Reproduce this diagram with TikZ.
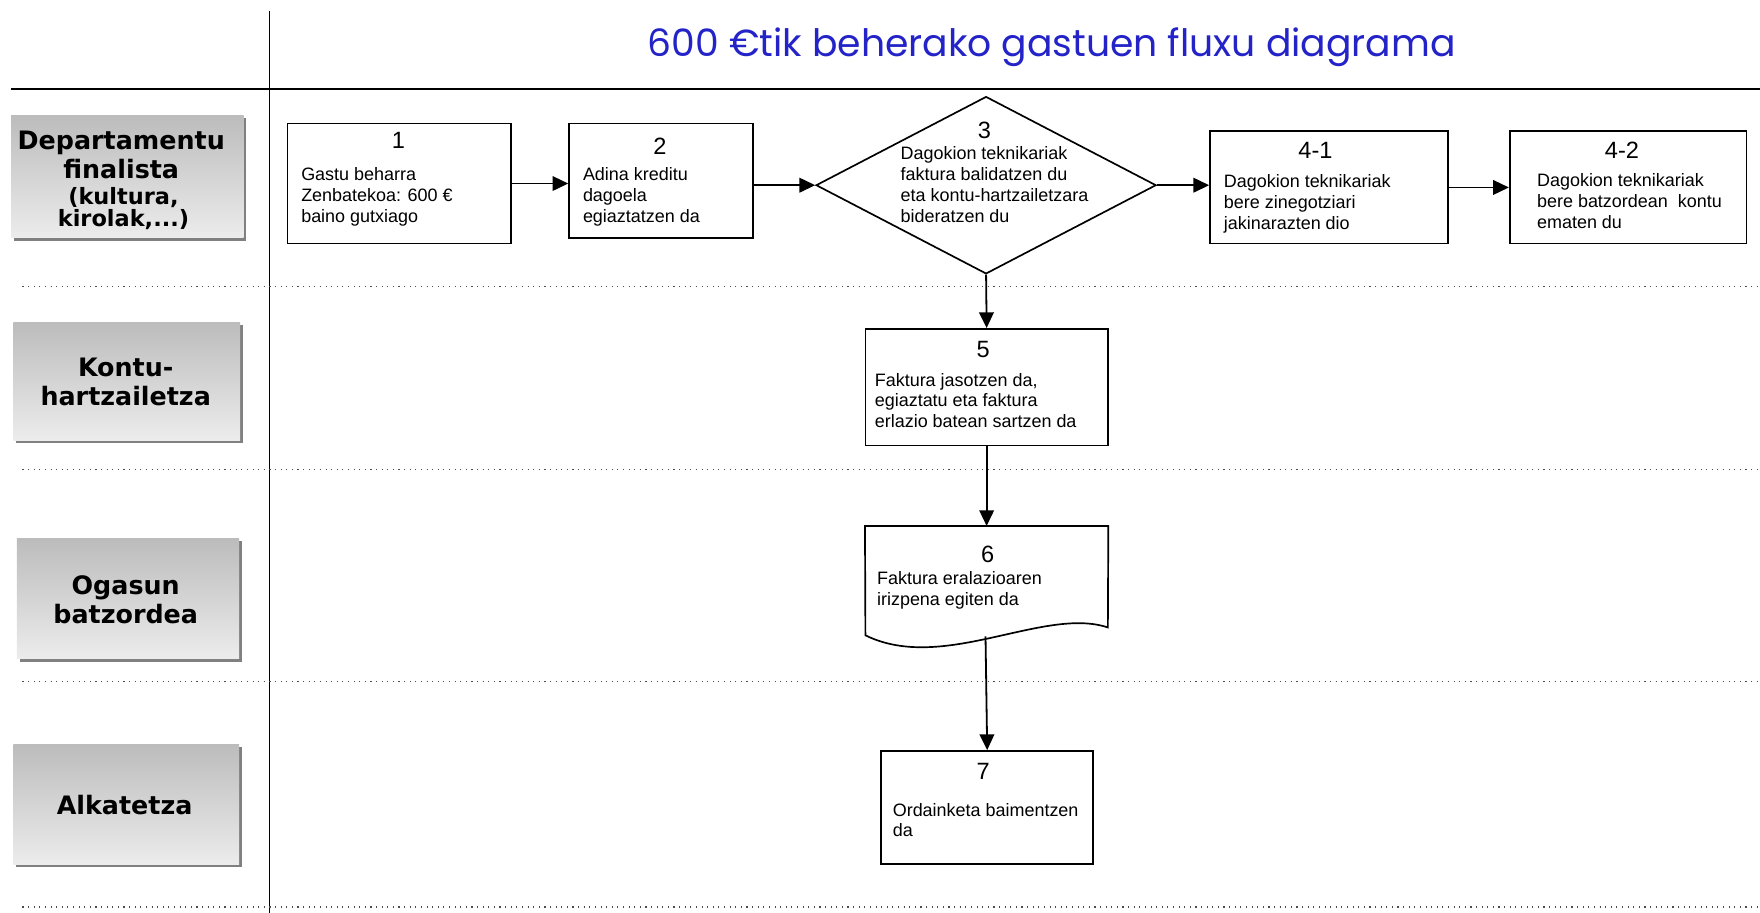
\documentclass[tikz,border=0pt]{standalone}
\usepackage{fontspec}
\setmainfont{Liberation Sans}
\newfontfamily\lanefont{DejaVu Sans}
\newfontfamily\titlefont{Poppins}
\usetikzlibrary{shapes.geometric,arrows.meta,shadows}
\definecolor{titleblue}{RGB}{35,35,200}
\definecolor{lanetop}{RGB}{188,188,188}
\definecolor{lanebot}{RGB}{236,236,236}
\begin{document}
\begin{tikzpicture}[x=0.5pt,y=-0.5pt,
  stepbox/.style={draw, line width=0.75pt, inner sep=0pt},
  num/.style={font=\fontsize{10.5}{12}\selectfont, inner sep=0pt},
  txt/.style={font=\fontsize{8}{9.3}\selectfont, align=left, anchor=north west, inner sep=0pt},
  arr/.style={line width=0.8pt, -{Triangle[length=7pt,width=6.5pt]}},
  lanebox/.style={inner sep=0pt, top color=lanetop, bottom color=lanebot,
     drop shadow={shadow xshift=1.2pt, shadow yshift=-1.2pt, fill=black!50, opacity=1}},
  lanetxt/.style={font=\lanefont\bfseries\fontsize{11.3}{13}\selectfont, align=center, inner sep=0pt},
  lanesmall/.style={font=\lanefont\bfseries\fontsize{10}{9.6}\selectfont, align=center, inner sep=0pt},
  sepline/.style={dotted, line width=0.5pt, black!70}
]
\useasboundingbox (0,0) rectangle (1568,813);

% frame lines
\draw[line width=0.75pt] (10,79) -- (1568,79);
\draw[line width=0.75pt] (240,10) -- (240,813);
\draw[sepline] (20,255) -- (1568,255);
\draw[sepline] (20,418) -- (1568,418);
\draw[sepline] (20,607) -- (1568,607);
\draw[sepline] (20,808) -- (1568,808);

% title
\node[font=\titlefont\fontsize{16.8}{19}\selectfont, text=titleblue, inner sep=0pt] (title) at (937,42) {600 €tik beherako gastuen fluxu diagrama};

% lane labels
\node[lanebox, minimum width=103.5pt, minimum height=54.5pt] (L1) at (113.5,157.5) {};
\node[lanebox, minimum width=101pt, minimum height=52.5pt] (L2) at (113,339.5) {};
\node[lanebox, minimum width=99pt, minimum height=53.5pt] (L3) at (114,533.5) {};
\node[lanebox, minimum width=100.5pt, minimum height=53.5pt] (L4) at (112.5,716.5) {};
\node[lanetxt] (L1a) at (108,138) {Departamentu\\finalista};
\node[lanesmall] (L1b) at (110,186) {(kultura,\\kirolak,...)};
\node[lanetxt] (L2a) at (112,340) {Kontu-\\hartzailetza};
\node[lanetxt] (L3a) at (112,534) {Ogasun\\batzordea};
\node[lanetxt] (L4a) at (111,717) {Alkatetza};

% step boxes
\node[stepbox, minimum width=99.5pt, minimum height=53.5pt] (b1) at (355.5,163.5) {};
\node[num] (n1) at (355,125) {1};
\node[txt] (t1) at (268,149) {Gastu beharra\\Zenbatekoa: 600 €\\baino gutxiago};

\node[stepbox, minimum width=82pt, minimum height=51pt] (b2) at (589,161) {};
\node[num] (n2) at (588,130) {2};
\node[txt] (t2) at (519,149) {Adina kreditu\\dagoela\\egiaztatzen da};

\node[stepbox, diamond, minimum width=151.5pt, minimum height=79pt] (d3) at (878.5,165) {};
\node[num] (n3) at (877,116) {3};
\node[txt] (t3) at (802,130) {Dagokion teknikariak\\faktura balidatzen du\\eta kontu-hartzailetzara\\bideratzen du};

\node[stepbox, minimum width=106pt, minimum height=50pt] (b41) at (1184,167) {};
\node[num] (n41) at (1172,134) {4-1};
\node[txt] (t41) at (1090,155) {Dagokion teknikariak\\bere zinegotziari\\jakinarazten dio};

\node[stepbox, minimum width=105.5pt, minimum height=50pt] (b42) at (1450.5,167) {};
\node[num] (n42) at (1445,134) {4-2};
\node[txt] (t42) at (1369,154) {Dagokion teknikariak\\bere batzordean\ \ kontu\\ematen du};

\node[stepbox, minimum width=108pt, minimum height=52pt] (b5) at (879,345) {};
\node[num] (n5) at (876,311) {5};
\node[txt] (t5) at (779,332) {Faktura jasotzen da,\\egiaztatu eta faktura\\erlazio batean sartzen da};

% document shape for step 6
\node[inner sep=0pt, minimum width=108pt, minimum height=45.5pt] (b6) at (879,514.5) {};
\draw[line width=0.75pt] (b6.north west) -- (b6.north east) -- (987,559)
   .. controls (930,540) and (840,600) .. (771,566) -- cycle;
\coordinate (c6) at (878,567);
\node[num] (n6) at (880,494) {6};
\node[txt] (t6) at (781,509) {Faktura eralazioaren\\irizpena egiten da};

\node[stepbox, minimum width=94.5pt, minimum height=50.5pt] (b7) at (879.5,719.5) {};
\node[num] (n7) at (876,687) {7};
\node[txt] (t7) at (795,715) {Ordainketa baimentzen\\da};

% connectors
\draw[arr] (b1.east) -- (b1.east -| b2.west);
\draw[arr] (b2.east |- d3.west) -- (d3.west);
\draw[arr] (d3.east) -- (d3.east -| b41.west);
\draw[arr] (b41.east) -- (b42.west);
\draw[arr] (d3.south) -- (b5.north);
\draw[arr] (b5.south) -- (b6.north);
\draw[arr] (c6) -- (b7.north);
\end{tikzpicture}
\end{document}
